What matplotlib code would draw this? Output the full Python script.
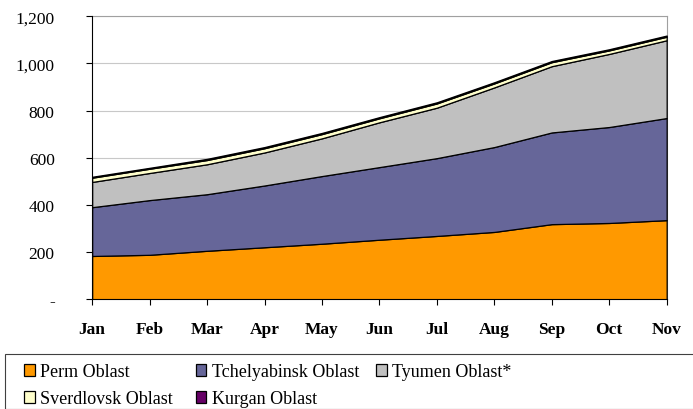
import matplotlib
matplotlib.use("Agg")
import matplotlib.pyplot as plt
import matplotlib.patches as patches
from matplotlib.ticker import FuncFormatter

plt.rcParams['font.family'] = ['Liberation Serif', 'DejaVu Serif']

months = ['Jan', 'Feb', 'Mar', 'Apr', 'May', 'Jun', 'Jul', 'Aug', 'Sep', 'Oct', 'Nov']
series_names = ['Perm Oblast', 'Tchelyabinsk Oblast', 'Tyumen Oblast*',
                'Sverdlovsk Oblast', 'Kurgan Oblast']
perm = [183, 188, 205, 220, 235, 252, 268, 285, 318, 323, 335]
tchelyabinsk = [207, 232, 240, 262, 287, 308, 330, 360, 389, 407, 433]
tyumen = [107, 115, 127, 140, 160, 190, 214, 253, 281, 310, 330]
sverdlovsk = [18, 18, 18, 18, 18, 17, 18, 17, 17, 15, 15]
kurgan = [4, 4, 5, 5, 5, 5, 5, 5, 5, 5, 5]
colors = ['#FF9900', '#666699', '#C0C0C0', '#FFFFCC', '#660066']

fig = plt.figure(figsize=(6.93, 4.10), dpi=100)
ax = fig.add_axes([0.133, 0.268, 0.829, 0.690])

x = list(range(len(months)))
ax.stackplot(x, perm, tchelyabinsk, tyumen, sverdlovsk, kurgan,
             colors=colors, labels=series_names,
             edgecolor='black', linewidth=0.9, zorder=3)

ax.set_xlim(0, len(months) - 1)
ax.set_ylim(0, 1200)
ax.set_yticks(range(0, 1201, 200))
ax.yaxis.set_major_formatter(FuncFormatter(lambda v, p: '-' if v == 0 else f'{int(v):,}'))
ax.set_xticks(x)
ax.set_xticklabels(months, fontweight='bold', fontsize=12.5)
ax.tick_params(axis='y', labelsize=12.5, direction='out', length=4, pad=23)
ax.tick_params(axis='x', direction='out', length=4, pad=12)

ax.grid(axis='y', color='#C8C8C8', linewidth=0.8, zorder=0)
ax.set_axisbelow(True)
for s in ['top', 'right']:
    ax.spines[s].set_color('#A0A0A0')
for s in ['left', 'bottom']:
    ax.spines[s].set_color('black')
    ax.spines[s].set_zorder(4)

# legend box
box = patches.Rectangle((0.007, 0.0), 1.0, 0.134, transform=fig.transFigure,
                        fill=False, edgecolor='#404040', linewidth=0.8)
fig.patches.append(box)

# one legend per column so the columns line up like the original
handles, labels = ax.get_legend_handles_labels()
columns = [[0, 3], [1, 4], [2]]
col_x = [0.016, 0.264, 0.524]
for cx, idx in zip(col_x, columns):
    leg = fig.legend([handles[i] for i in idx], [labels[i] for i in idx],
                     loc='upper left', bbox_to_anchor=(cx, 0.142),
                     frameon=False, fontsize=13, handlelength=0.6,
                     handleheight=0.6, handletextpad=0.3,
                     labelspacing=0.55, borderpad=0.2)

fig.savefig('out.png', dpi=100)
